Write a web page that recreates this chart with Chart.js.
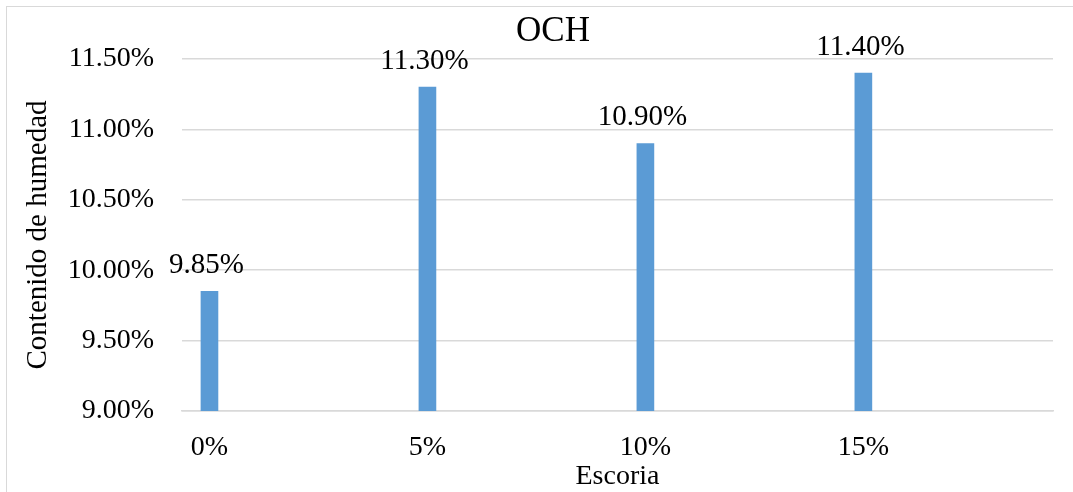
<!DOCTYPE html>
<html>
<head>
<meta charset="utf-8">
<script src="https://cdn.jsdelivr.net/npm/chart.js@4"></script>
<style>
  html, body { margin: 0; padding: 0; background: #fff; overflow: hidden; }
  #wrap { position: relative; width: 1073px; height: 492px; }
  #frame { position: absolute; left: 6px; top: 6px; width: 1100px; height: 600px;
           border-top: 1px solid #d9d9d9; border-left: 1px solid #d9d9d9; }
  canvas { position: absolute; left: 0; top: 0; }
</style>
</head>
<body>
<div id="wrap">
  <div id="frame"></div>
  <canvas id="myChart" width="1073" height="492"></canvas>
</div>
<script>
// porcentaje de escoria y contenido de humedad (OCH)
var categories = ["0%", "5%", "10%", "15%"];
var escoria = [0, 5, 10, 15];
var humedad = [9.85, 11.30, 10.90, 11.40];
var yTicks = [9.00, 9.50, 10.00, 10.50, 11.00, 11.50];

var serif = "'Liberation Serif', 'Times New Roman', serif";

var points = escoria.map(function (x, i) { return { x: x, y: humedad[i] }; });

// texto de valor encima de cada barra
var valueLabels = {
  id: 'valueLabels',
  afterDatasetsDraw: function (chart) {
    var ctx = chart.ctx;
    var meta = chart.getDatasetMeta(0);
    ctx.save();
    ctx.font = "29px " + serif;
    ctx.fillStyle = "#000";
    ctx.textAlign = "center";
    ctx.textBaseline = "alphabetic";
    meta.data.forEach(function (bar, i) {
      ctx.fillText(humedad[i].toFixed(2) + "%", bar.x - 3, bar.y - 18);
    });
    ctx.restore();
  }
};

// titulo del grafico
var chartTitle = {
  id: 'chartTitle',
  afterDraw: function (chart) {
    var ctx = chart.ctx;
    ctx.save();
    ctx.font = "35px " + serif;
    ctx.fillStyle = "#000";
    ctx.textAlign = "center";
    ctx.textBaseline = "middle";
    ctx.fillText("OCH", 553, 32);
    ctx.restore();
  }
};

var ctx = document.getElementById("myChart");

var myChart = new Chart(ctx, {
  type: 'bar',
  data: {
    datasets: [{
      label: 'OCH',
      data: points,
      backgroundColor: "#5b9bd5",
      borderWidth: 0,
      barThickness: 17
    }]
  },
  options: {
    responsive: false,
    animation: false,
    layout: { padding: { top: 59, left: 6, right: 20, bottom: 0 } },
    plugins: {
      legend: { display: false },
      title: { display: false },
      tooltip: { enabled: false }
    },
    scales: {
      x: {
        type: 'linear',
        offset: false,
        min: -0.63,
        max: 19.35,
        afterBuildTicks: function (scale) {
          scale.ticks = escoria.map(function (v) { return { value: v }; });
        },
        afterFit: function (scale) { scale.height = 81; },
        grid: { display: false, drawTicks: false },
        border: { display: true, color: "#d9d9d9", width: 1.5 },
        ticks: {
          padding: 20,
          color: "#000",
          font: { family: serif, size: 28 },
          maxRotation: 0,
          autoSkip: false,
          callback: function (v) {
            var i = escoria.indexOf(v);
            return i >= 0 ? categories[i] : "";
          }
        },
        title: {
          display: true,
          text: "Escoria",
          color: "#000",
          font: { family: serif, size: 28, lineHeight: 1.1 },
          padding: { top: 0, bottom: 0 }
        }
      },
      y: {
        min: 9,
        max: 11.5,
        afterBuildTicks: function (scale) {
          scale.ticks = yTicks.map(function (v) { return { value: v }; });
        },
        afterFit: function (scale) { scale.width = 176; },
        grid: { color: "#d9d9d9", lineWidth: 1.5, drawTicks: false },
        border: { display: false },
        ticks: {
          padding: 28,
          color: "#000",
          font: { family: serif, size: 28 },
          callback: function (v) { return v.toFixed(2) + "%"; }
        },
        title: {
          display: true,
          text: "Contenido de humedad",
          color: "#000",
          font: { family: serif, size: 29, lineHeight: 1.2 },
          padding: { top: 15, bottom: 0 }
        }
      }
    }
  },
  plugins: [valueLabels, chartTitle]
});
</script>
</body>
</html>
